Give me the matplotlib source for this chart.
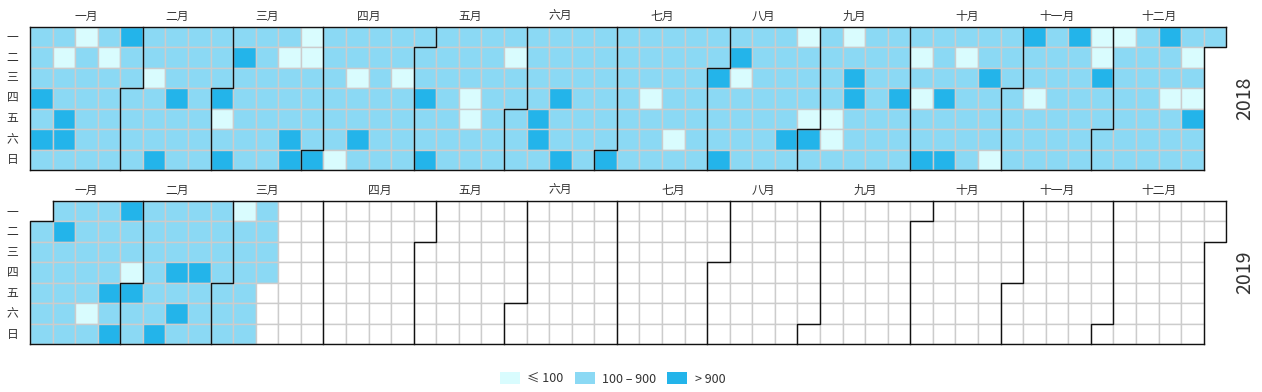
"""Calendar heatmap of daily levels for 2018 and early 2019."""

import matplotlib
matplotlib.use("Agg")
import matplotlib.pyplot as plt
from matplotlib.patches import Patch, Rectangle
import numpy as np
import pandas as pd

plt.rcParams["font.family"] = ["Noto Sans CJK SC", "DejaVu Sans"]

MONTH_NAMES = ["一月", "二月", "三月", "四月", "五月", "六月",
               "七月", "八月", "九月", "十月", "十一月", "十二月"]
DAY_NAMES = ["一", "二", "三", "四", "五", "六", "日"]

LEVEL_CODES = "LMH"
LEVEL_LABELS = ["≤ 100", "100 – 900", "> 900"]
LEVEL_COLORS = ["#d9fcfe", "#8bd9f4", "#23b4ea"]

# one string per month, one letter per day (L: <=100, M: 100-900, H: >900)
LEVELS_2018 = [
    "MMMHM HMMLM MHHML MMMMM MMLMM MMMHM M",
    "MMMMM MLMMM HMMMH MMMMM MMMMM MMM",
    "HLMHM HMMMM MMMMM MMMML MMMHH LLMMM M",
    "HMMMM MMLMM LMMHM MMMMM MMMML MMMMM",
    "MMHMM HMMMM MMMMM MLLMM MMMMM MMMLM M",
    "MMMMM MMHHM MMMHM MHMMM MMMMM MMMMM",
    "HMMMM MMMMM MLMMM MMMMM LMMMM MMMMM M",
    "HMMMH MHLMM MMMMM MMMMM MMMMH MLMMM L",
    "HMMMM MLLML MHHMM MMMMM MMMMM MHMMM",
    "MLMLM MHMMM HMMHM LMMMM MMMHM MMLMM M",
    "MMMMH MMLMM MMMMM MMMHM MMMMM LLHMM",
    "MMLMM MMMMM MMMMM MHMML MMMML MLHMM M",
]
LEVELS_2019 = [
    "MMMMM MMHMM MMMMM MMMLM MMMMH MHHMM L",
    "HMMMM MMMMH MMMHM HMMMM HMMMM MMM",
    "MMMLM MMMMM MMMM",
]

W, H = 1262, 392
GRID_LEFT, GRID_RIGHT = 30, 1226.3
N_WEEKS = 53


def boundary(col, row):
    """Polyline separating the cell at (col, row) from the days before it."""
    if row == 0:
        return [col, col], [0, 7]
    return [col + 1, col + 1, col, col], [0, row, row, 7]


def draw_year(ax, year, month_levels):
    days = pd.date_range(f"{year}-01-01", f"{year}-12-31")
    offset = days[0].weekday()
    cols = (np.arange(len(days)) + offset) // 7
    rows = days.weekday.to_numpy()
    codes = "".join(s.replace(" ", "") for s in month_levels)

    for i, (c, r) in enumerate(zip(cols, rows)):
        face = LEVEL_COLORS[LEVEL_CODES.index(codes[i])] if i < len(codes) else "white"
        ax.add_patch(Rectangle((c, r), 1, 1, facecolor=face,
                               edgecolor="#cccccc", linewidth=1.0))

    line_kw = dict(color="#111111", linewidth=1.0, clip_on=False, zorder=3)
    for month in range(1, 13):
        in_month = np.flatnonzero(days.month == month)
        first, last = in_month[0], in_month[-1]
        xs, ys = boundary(cols[first], rows[first])
        ax.plot(xs, ys, **line_kw)
        ax.text((cols[first] + cols[last] + 1) / 2, -0.5, MONTH_NAMES[month - 1],
                ha="center", va="center", fontsize=8.5, color="#333333")

    c_end, r_end = cols[-1], rows[-1]
    xs, ys = boundary(c_end, r_end + 1) if r_end < 6 else boundary(c_end + 1, 0)
    ax.plot(xs, ys, **line_kw)
    ax.plot([cols[0] + (1 if rows[0] > 0 else 0), c_end + 1], [0, 0], **line_kw)
    ax.plot([cols[0], c_end + (1 if r_end == 6 else 0)], [7, 7], **line_kw)

    for r, name in enumerate(DAY_NAMES):
        ax.text(-0.78, r + 0.5, name, ha="center", va="center",
                fontsize=8.5, color="#333333")
    ax.text(N_WEEKS + 0.83, 3.5, str(year), rotation=90, ha="center",
            va="center", fontsize=14, color="#333333")

    ax.set_xlim(0, N_WEEKS)
    ax.set_ylim(7, 0)
    ax.axis("off")


def main():
    fig = plt.figure(figsize=(W / 100, H / 100), dpi=100)
    width = (GRID_RIGHT - GRID_LEFT) / W
    ax_2018 = fig.add_axes([GRID_LEFT / W, 1 - 170 / H, width, 143.3 / H])
    ax_2019 = fig.add_axes([GRID_LEFT / W, 1 - 344.3 / H, width, 143.3 / H])
    draw_year(ax_2018, 2018, LEVELS_2018)
    draw_year(ax_2019, 2019, LEVELS_2019)

    handles = [Patch(facecolor=c, edgecolor="none", label=l)
               for c, l in zip(LEVEL_COLORS, LEVEL_LABELS)]
    fig.legend(handles=handles, loc="center", bbox_to_anchor=(612.5 / W, 1 - 379 / H),
               ncol=3, frameon=False, fontsize=9, labelcolor="#333333",
               handlelength=1.6, handleheight=1.1, handletextpad=0.6,
               columnspacing=0.9)

    fig.savefig("out.png", dpi=100)
    plt.close(fig)


if __name__ == "__main__":
    main()
